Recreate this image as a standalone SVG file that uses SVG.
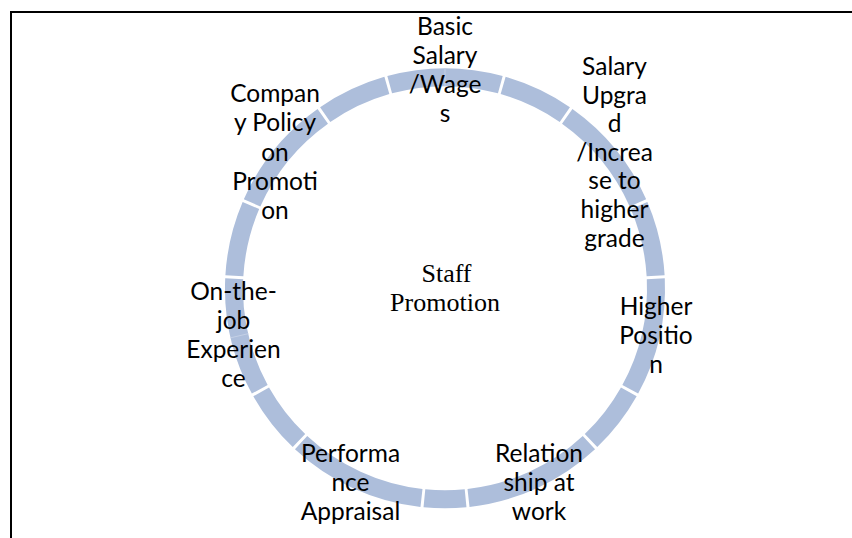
<svg xmlns="http://www.w3.org/2000/svg" width="852" height="538" viewBox="0 0 852 538">
  <style>
    .frame { fill: none; stroke: #000; stroke-width: 2; }
    .ring { fill: none; stroke: #adbedb; stroke-width: 18; stroke-linecap: butt; }
    .seam { stroke: #c4d0e6; stroke-width: 1; }
    .label { font-family: Lato, "Liberation Sans", sans-serif; font-size: 24.5px; fill: #000; text-anchor: middle; }
    .hub { font-family: "Liberation Serif", "Times New Roman", serif; font-size: 26px; fill: #000; text-anchor: middle; }
  </style>

  <rect width="852" height="538" fill="#fff"/>

  <!-- page frame: top and left rules -->
  <path class="frame" d="M11 538 V12 H852"/>

  <!-- cycle ring, drawn as arc segments around centre (445, 288.3), r = 211 -->
  <g id="connectors">
    <path class="ring" d="M389.68 84.68 A211 211 0 0 1 500.32 84.68"/>
    <path class="ring" d="M503.15 85.47 A211 211 0 0 1 564.81 114.63"/>
    <path class="ring" d="M567.23 116.31 A211 211 0 0 1 637.92 202.82"/>
    <path class="ring" d="M639.08 205.52 A211 211 0 0 1 655.63 275.79"/>
    <path class="ring" d="M655.79 278.73 A211 211 0 0 1 630.26 389.30"/>
    <path class="ring" d="M628.82 391.88 A211 211 0 0 1 591.03 440.60"/>
    <path class="ring" d="M588.90 442.63 A211 211 0 0 1 468.52 497.99"/>
    <path class="ring" d="M465.59 498.29 A211 211 0 0 1 424.41 498.29"/>
    <path class="ring" d="M421.48 497.99 A211 211 0 0 1 301.10 442.63"/>
    <path class="ring" d="M298.97 440.60 A211 211 0 0 1 261.18 391.88"/>
    <path class="ring" d="M259.74 389.30 A211 211 0 0 1 234.21 278.73"/>
    <path class="ring" d="M234.37 275.79 A211 211 0 0 1 250.92 205.52"/>
    <path class="ring" d="M252.08 202.82 A211 211 0 0 1 322.77 116.31"/>
    <path class="ring" d="M325.19 114.63 A211 211 0 0 1 386.85 85.47"/>
    <!-- faint joins where two arcs meet -->
    <line class="seam" x1="445" y1="68.3" x2="445" y2="86.3"/>
    <line class="seam" x1="230.6" y1="337.8" x2="248.2" y2="333.7"/>
  </g>

  <g id="hub">
    <text class="hub" x="446.5" y="282.3">Staff</text>
    <text class="hub" x="445" y="311">Promotion</text>
  </g>

  <g id="node-basic-salary">
    <text class="label" x="445" y="35">Basic</text>
    <text class="label" x="445" y="64">Salary</text>
    <text class="label" x="445" y="93">/Wage</text>
    <text class="label" x="445" y="122">s</text>
  </g>

  <g id="node-salary-upgrade">
    <text class="label" x="614.5" y="75">Salary</text>
    <text class="label" x="614.5" y="103.6">Upgra</text>
    <text class="label" x="614.5" y="132.2">d</text>
    <text class="label" x="614.5" y="160.8">/Increa</text>
    <text class="label" x="614.5" y="189.4">se to</text>
    <text class="label" x="614.5" y="218">higher</text>
    <text class="label" x="614.5" y="246.6">grade</text>
  </g>

  <g id="node-higher-position">
    <text class="label" x="656" y="315">Higher</text>
    <text class="label" x="656" y="344">Positio</text>
    <text class="label" x="656" y="373">n</text>
  </g>

  <g id="node-relationship">
    <text class="label" x="539" y="462">Relation</text>
    <text class="label" x="539" y="491">ship at</text>
    <text class="label" x="539" y="520">work</text>
  </g>

  <g id="node-performance">
    <text class="label" x="350.5" y="462">Performa</text>
    <text class="label" x="350.5" y="491">nce</text>
    <text class="label" x="350.5" y="520">Appraisal</text>
  </g>

  <g id="node-on-the-job">
    <text class="label" x="233.5" y="300">On-the-</text>
    <text class="label" x="233.5" y="329">job</text>
    <text class="label" x="233.5" y="358">Experien</text>
    <text class="label" x="233.5" y="387">ce</text>
  </g>

  <g id="node-company-policy">
    <text class="label" x="275" y="102">Compan</text>
    <text class="label" x="275" y="131.3">y Policy</text>
    <text class="label" x="275" y="160.6">on</text>
    <text class="label" x="275" y="189.9">Promoti</text>
    <text class="label" x="275" y="219.2">on</text>
  </g>
</svg>
